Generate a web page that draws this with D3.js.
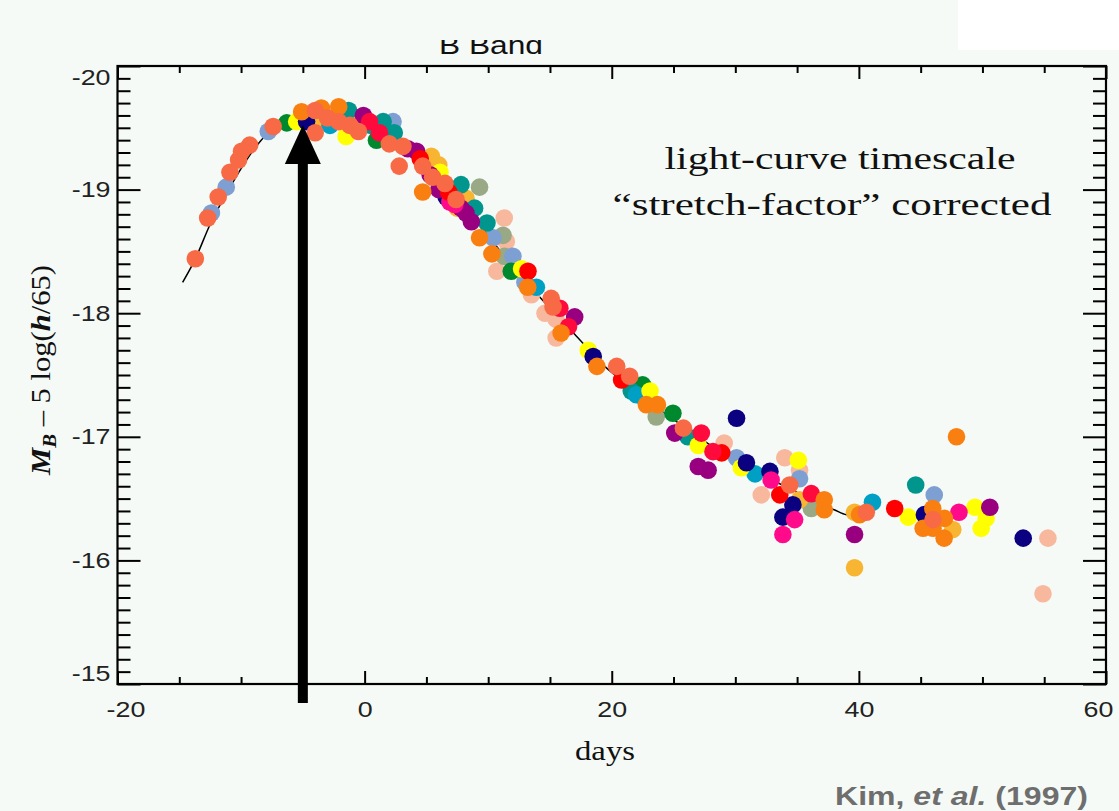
<!DOCTYPE html>
<html><head><meta charset="utf-8">
<script src="https://cdn.jsdelivr.net/npm/d3@7"></script>
<style>html,body{margin:0;padding:0;background:#f5faf6;} svg{display:block}</style>
</head><body><svg id="c" width="1119" height="811"></svg>
<script>
// ---------- data ----------
const xTickLabels = [-20, 0, 20, 40, 60];
const yTickLabels = [-20, -19, -18, -17, -16, -15];
const arrowDay = -5;

const templateDays = [-14.73,-13.7,-12.5,-11,-10,-9,-8,-7,-6,-5,-4,-3,-2,-1,0,1,2,3,4,5,6,7,8,9,10,11,12,13,14,15,16,17,18,19,20,21,22,24,26,28,30,32,34,36,37,38,39,40.5];
const templateMags = [-18.25,-18.44,-18.72,-19.0,-19.17,-19.32,-19.44,-19.52,-19.57,-19.6,-19.62,-19.62,-19.61,-19.58,-19.55,-19.5,-19.45,-19.38,-19.3,-19.21,-19.11,-19.0,-18.88,-18.76,-18.63,-18.5,-18.38,-18.26,-18.15,-18.04,-17.93,-17.83,-17.72,-17.61,-17.52,-17.44,-17.36,-17.21,-17.07,-16.93,-16.8,-16.7,-16.6,-16.5,-16.45,-16.41,-16.37,-16.36];

const peach = [[11.3,-18.77],[11.47,-18.58],[10.7,-18.34],[13.5,-18.15],[14.6,-18.0],[15.5,-17.95],[15.5,-17.8],[29.1,-16.95],[34.0,-16.83],[35.2,-16.73],[32.1,-16.53],[55.3,-16.18],[54.9,-15.73]];
const grayGreen = [[9.3,-19.02],[11.2,-18.63],[11.3,-18.46],[23.6,-17.16],[36.15,-16.42]];
const lightBlue = [[-12.4,-18.81],[-11.2,-19.02],[-7.8,-19.47],[2.3,-19.55],[10.4,-18.61],[12.0,-18.46],[12.97,-18.25],[30.1,-16.83],[35.2,-16.66],[46.1,-16.53]];
const gold = [[-3.4,-19.55],[-0.8,-19.55],[5.4,-19.27],[6.0,-19.2],[7.5,-18.85],[8.2,-18.93],[35.2,-16.49],[39.65,-16.39],[47.6,-16.25],[39.65,-15.94]];
const green = [[-6.3,-19.54],[0.96,-19.40],[11.87,-18.34],[22.5,-17.42],[24.95,-17.19]];
const teal = [[-1.3,-19.64],[0.5,-19.52],[1.5,-19.55],[2.4,-19.46],[7.8,-19.04],[8.9,-18.85],[9.9,-18.73],[21.58,-17.37],[22.66,-17.31],[26.16,-17.0],[44.6,-16.61]];
const cyan = [[-2.8,-19.52],[13.9,-18.21],[22.0,-17.34],[31.6,-16.7],[41.1,-16.47]];
const yellow = [[-5.5,-19.55],[-1.5,-19.43],[6.1,-19.14],[12.7,-18.36],[18.1,-17.7],[23.1,-17.37],[27.0,-16.93],[30.48,-16.75],[35.1,-16.81],[44.0,-16.35],[49.4,-16.43],[49.9,-16.26],[50.3,-16.34]];
const navy = [[-4.7,-19.55],[6.6,-18.94],[18.5,-17.65],[30.1,-17.15],[30.9,-16.79],[32.8,-16.72],[34.66,-16.45],[33.85,-16.35],[45.3,-16.37],[53.3,-16.18]];
const purple = [[-0.1,-19.6],[3.5,-19.33],[4.2,-19.31],[5.3,-19.12],[6.0,-19.0],[7.8,-18.85],[8.2,-18.81],[8.64,-18.74],[17.0,-17.97],[25.1,-17.03],[27.0,-16.76],[27.8,-16.73],[39.65,-16.21],[50.6,-16.43]];
const pink = [[6.9,-18.9],[7.3,-18.88],[32.9,-16.65],[34.8,-16.33],[33.85,-16.21],[48.1,-16.39]];
const red = [[4.5,-19.25],[6.8,-18.98],[13.22,-18.34],[20.8,-17.46],[28.9,-16.87],[33.6,-16.53],[42.9,-16.42]];
const crimson = [[0.4,-19.55],[1.2,-19.46],[15.8,-18.04],[16.5,-17.89],[27.25,-17.03],[28.19,-16.88],[36.15,-16.54]];
const orange = [[-5.1,-19.63],[-3.5,-19.66],[-2.1,-19.67],[4.7,-18.98],[9.3,-18.61],[10.3,-18.48],[13.2,-18.21],[15.9,-17.84],[18.8,-17.57],[22.8,-17.26],[23.7,-17.26],[37.2,-16.49],[37.2,-16.41],[40.05,-16.37],[45.98,-16.42],[46.93,-16.34],[45.2,-16.26],[46.0,-16.26],[46.9,-16.18],[47.9,-17.0]];
const coral = [[-13.7,-18.44],[-12.7,-18.77],[-11.85,-18.94],[-10.9,-19.14],[-10.2,-19.24],[-9.96,-19.31],[-9.3,-19.36],[-7.4,-19.51],[-4.0,-19.64],[-4.0,-19.46],[-3.0,-19.58],[-2.1,-19.55],[-1.2,-19.52],[-0.5,-19.47],[2.0,-19.37],[3.1,-19.35],[2.8,-19.19],[4.7,-19.19],[5.5,-19.1],[6.5,-19.05],[7.4,-18.92],[15.1,-18.12],[15.25,-18.05],[20.4,-17.57],[21.45,-17.49],[25.8,-17.07],[34.4,-16.61],[40.6,-16.39],[46.0,-16.33]];

// ---------- build ----------
const series = [
  {name:"peach", pts:peach}, {name:"grayGreen", pts:grayGreen}, {name:"lightBlue", pts:lightBlue},
  {name:"gold", pts:gold}, {name:"green", pts:green}, {name:"teal", pts:teal}, {name:"cyan", pts:cyan},
  {name:"yellow", pts:yellow}, {name:"navy", pts:navy}, {name:"purple", pts:purple}, {name:"pink", pts:pink},
  {name:"red", pts:red}, {name:"crimson", pts:crimson}, {name:"orange", pts:orange}, {name:"coral", pts:coral}
];
const colors = {peach:"#f8b89e", grayGreen:"#99a985", lightBlue:"#7d9fd2", gold:"#f7b532", green:"#00882e",
  teal:"#00968e", cyan:"#00a0c4", yellow:"#ffff00", navy:"#0a0080", purple:"#980080", pink:"#ff0a8a",
  red:"#ff0000", crimson:"#ff0a3c", orange:"#f98010", coral:"#f86a45"};

const svg = d3.select("#c");
const W = 1119, H = 811;
const L = 117.5, R = 1106, T = 66, B = 684;
const x = d3.scaleLinear().domain([-20, 60]).range([L, R]);
const y = d3.scaleLinear().domain([-20, -15]).range([T, B]);
const fmt = d => String(d); // plain hyphen-minus as in the reference

svg.append("rect").attr("width", W).attr("height", H).attr("fill", "#f5faf6");
svg.append("rect").attr("x", 958).attr("y", 0).attr("width", 161).attr("height", 50).attr("fill", "#ffffff");

// clipped title
svg.append("clipPath").attr("id", "tclip").append("rect").attr("x", 0).attr("y", 40).attr("width", W).attr("height", 30);
svg.append("text").attr("clip-path", "url(#tclip)").attr("x", 491).attr("y", 54)
  .attr("text-anchor", "middle").attr("font-family", "Liberation Sans, Arial, sans-serif")
  .attr("font-size", 25).attr("fill", "#111").attr("textLength", 104).attr("lengthAdjust", "spacingAndGlyphs").text("B Band");

// template curve
const line = d3.line().x(d => x(d[0])).y(d => y(d[1])).curve(d3.curveMonotoneX);
svg.append("path").datum(templateDays.map((d, i) => [d, templateMags[i]]))
  .attr("d", line).attr("fill", "none").attr("stroke", "#000").attr("stroke-width", 1.5);

// points
const pg = svg.append("g");
series.forEach(s => {
  pg.append("g").selectAll("circle").data(s.pts).join("circle")
    .attr("cx", d => x(d[0])).attr("cy", d => y(d[1])).attr("r", 8.8)
    .attr("fill", colors[s.name]);
});

// axes
const font = "Liberation Sans, Arial, Helvetica, sans-serif";
function styleAxis(g) {
  g.select(".domain").remove();
  g.selectAll(".tick line").attr("stroke", "#000").attr("stroke-width", 2);
  g.selectAll(".tick text").attr("font-family", font).attr("font-size", 22).attr("fill", "#222");
}
function stretch(sel, k) {
  sel.each(function() {
    const len = this.getComputedTextLength();
    d3.select(this).attr("textLength", len * k).attr("lengthAdjust", "spacingAndGlyphs");
  });
}
const xMinor = d3.range(-15, 60, 5).filter(v => v % 20 !== 0);
const yMinor = d3.range(1, 50).filter(i => i % 10 !== 0).map(i => -20 + i / 10);

const gxb = svg.append("g").attr("transform", `translate(0,${B})`)
  .call(d3.axisBottom(x).tickValues(xTickLabels).tickSize(-13).tickPadding(17).tickFormat(fmt));
styleAxis(gxb);
gxb.selectAll(".tick text").attr("x", d => d === -20 ? 8 : d === 60 ? -8 : 0);
stretch(gxb.selectAll(".tick text"), 1.22);
styleAxis(svg.append("g").attr("transform", `translate(0,${B})`).call(d3.axisBottom(x).tickValues(xMinor).tickSize(-7).tickFormat("")));
styleAxis(svg.append("g").attr("transform", `translate(0,${T})`).call(d3.axisTop(x).tickValues(xTickLabels).tickSize(-13).tickFormat("")));
styleAxis(svg.append("g").attr("transform", `translate(0,${T})`).call(d3.axisTop(x).tickValues(xMinor).tickSize(-7).tickFormat("")));

const gyl = svg.append("g").attr("transform", `translate(${L},0)`)
  .call(d3.axisLeft(y).tickValues(yTickLabels).tickSize(-23).tickPadding(7).tickFormat(fmt));
styleAxis(gyl);
gyl.selectAll(".tick text").attr("dy", d => d === -20 ? "0.82em" : d === -15 ? "-0.18em" : "0.32em");
stretch(gyl.selectAll(".tick text"), 1.22);
styleAxis(svg.append("g").attr("transform", `translate(${L},0)`).call(d3.axisLeft(y).tickValues(yMinor).tickSize(-13).tickFormat("")));
styleAxis(svg.append("g").attr("transform", `translate(${R},0)`).call(d3.axisRight(y).tickValues(yTickLabels).tickSize(-23).tickFormat("")));
styleAxis(svg.append("g").attr("transform", `translate(${R},0)`).call(d3.axisRight(y).tickValues(yMinor).tickSize(-13).tickFormat("")));

svg.append("rect").attr("x", L).attr("y", T).attr("width", R - L).attr("height", B - T)
  .attr("fill", "none").attr("stroke", "#000").attr("stroke-width", 2.2);

// arrow
const ax = x(arrowDay);
svg.append("rect").attr("x", ax - 5).attr("y", 160).attr("width", 10).attr("height", 703 - 160).attr("fill", "#000");
svg.append("path").attr("d", `M${ax},125 L${ax - 18},164 L${ax + 18},164 Z`).attr("fill", "#000");

// annotations
const serif = "Liberation Serif, Times New Roman, serif";
svg.append("text").attr("x", 840).attr("y", 169).attr("text-anchor", "middle")
  .attr("font-family", serif).attr("font-size", 32).attr("fill", "#111")
  .attr("textLength", 351).attr("lengthAdjust", "spacingAndGlyphs")
  .text("light-curve timescale");
svg.append("text").attr("x", 832).attr("y", 215).attr("text-anchor", "middle")
  .attr("font-family", serif).attr("font-size", 32).attr("fill", "#111")
  .attr("textLength", 439).attr("lengthAdjust", "spacingAndGlyphs")
  .text("\u201Cstretch-factor\u201D corrected");

svg.append("text").attr("x", 605).attr("y", 760).attr("text-anchor", "middle")
  .attr("font-family", serif).attr("font-size", 28).attr("fill", "#111")
  .attr("textLength", 60).attr("lengthAdjust", "spacingAndGlyphs").text("days");

const yl = svg.append("text").attr("transform", "translate(50,370) rotate(-90)").attr("text-anchor", "middle")
  .attr("font-family", serif).attr("font-size", 28).attr("fill", "#111")
  .attr("textLength", 210).attr("lengthAdjust", "spacingAndGlyphs");
yl.append("tspan").attr("font-weight", "bold").attr("font-style", "italic").text("M");
yl.append("tspan").attr("font-weight", "bold").attr("font-style", "italic").attr("font-size", 19).attr("dy", 6).text("B");
yl.append("tspan").attr("dy", -6).text(" \u2013 5 log(");
yl.append("tspan").attr("font-weight", "bold").attr("font-style", "italic").text("h");
yl.append("tspan").text("/65)");

const cr = svg.append("text").attr("x", 1088).attr("y", 805).attr("text-anchor", "end")
  .attr("font-family", font).attr("font-weight", "bold").attr("font-size", 26).attr("fill", "#6e6e6e")
  .attr("textLength", 253).attr("lengthAdjust", "spacingAndGlyphs");
cr.append("tspan").text("Kim, ");
cr.append("tspan").attr("font-style", "italic").text("et al.");
cr.append("tspan").text(" (1997)");
</script></body></html>
